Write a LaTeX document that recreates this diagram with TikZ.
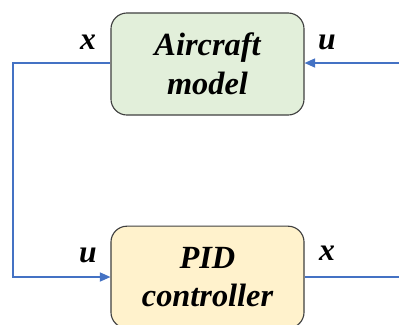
\documentclass[tikz,border=0pt]{standalone}
\usepackage{fontspec}
\setmainfont{Liberation Serif}
\usetikzlibrary{positioning}
\usetikzlibrary{arrows.meta}

\definecolor{boxgreen}{HTML}{E2EFDA}
\definecolor{boxyellow}{HTML}{FFF2CC}
\definecolor{boxedge}{HTML}{404040}
\definecolor{linkblue}{HTML}{4472C4}

\tikzset{
  block/.style={rectangle,rounded corners=0.4cm,draw=boxedge,line width=0.8pt,
    minimum width=4.825cm,minimum height=2.55cm,align=center,
    font=\fontsize{23}{27.5}\selectfont\bfseries\itshape},
  link/.style={draw=linkblue,line width=0.9pt},
  sig/.style={font=\fontsize{22.5}{25}\selectfont\bfseries\itshape}
}

\begin{document}
\begin{tikzpicture}[x=0.025cm,y=-0.025cm]
\useasboundingbox (0,0) rectangle (399,324);
\clip (0,0) rectangle (399,324);

\node[block,fill=boxgreen] (aircraft) at (207.5,64) {Aircraft\\model};
\node[block,fill=boxyellow,below=2.75cm of aircraft] (pid) {PID\\controller};

\coordinate (uin) at (399,63);
\coordinate (corner) at (13,63);
\coordinate (xout) at (399,277);

\draw[link,-{Triangle[length=7.5pt,width=6.5pt]}] (uin) -- (aircraft.east|-uin);
\draw[link,-{Triangle[length=7.5pt,width=6.5pt]}] (aircraft.west|-corner) -- (corner) |- (pid.west|-xout);
\draw[link] (pid.east|-xout) -- (xout);

\node[sig] (xtop) at (88,42) {x};
\node[sig] (utop) at (327,42) {u};
\node[sig] (ubot) at (88,255) {u};
\node[sig] (xbot) at (327,253) {x};

\end{tikzpicture}
\end{document}
